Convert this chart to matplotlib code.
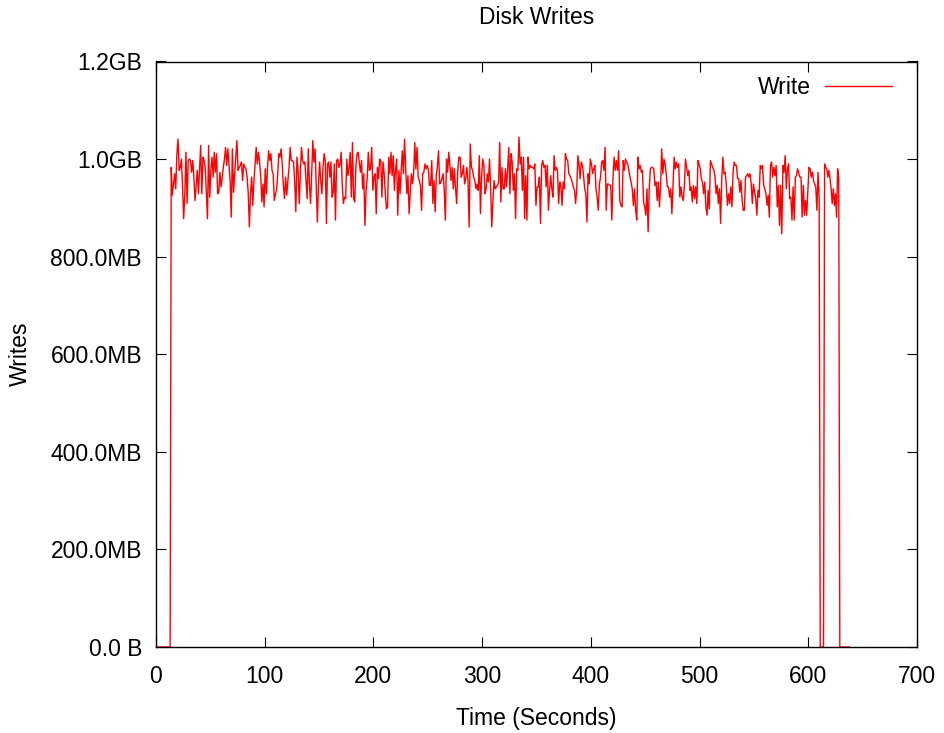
import matplotlib
matplotlib.use("Agg")
import matplotlib.pyplot as plt
import numpy as np
from matplotlib.ticker import FuncFormatter, MultipleLocator

plt.rcParams["font.family"] = ["Liberation Sans", "DejaVu Sans"]

# seconds (start, end) of each phase of the trace
IDLE_BEFORE = (0, 13)
RUN1_SPAN = (14, 610)
GAP_SPAN = (611, 614)
RUN2_SPAN = (615, 628)
IDLE_AFTER = (629, 638)

# write throughput, MB/s
RUN1_MB = [
    # ~14-110 s
    983, 926, 949, 970, 939, 1011, 1041, 977, 983, 1000, 943, 878, 929, 1014, 909, 997,
    1000, 997, 973, 997, 963, 915, 946, 977, 929, 977, 1028, 929, 1004, 997, 983, 929,
    878, 1028, 922, 977, 1004, 963, 1014, 973, 1011, 929, 932, 973, 943, 963, 983, 1000,
    1024, 987, 1021, 987, 956, 881, 1021, 932, 970, 1004, 1038, 977, 983, 987, 994, 956,
    990, 983, 980, 963, 929, 861, 929, 963, 905, 956, 987, 1024, 990, 1014, 994, 966,
    912, 949, 902, 980, 929, 983, 1017, 997, 1011, 977, 970, 915, 929, 936, 970, 1011,
    # ~115-224 s
    1004, 1021, 990, 946, 919, 963, 926, 956, 983, 1024, 997, 997, 994, 953, 892, 1004,
    977, 909, 970, 1024, 997, 990, 994, 956, 919, 1021, 949, 909, 970, 1038, 994, 1021,
    943, 871, 949, 994, 956, 929, 983, 1011, 997, 868, 990, 994, 963, 994, 922, 932,
    990, 875, 997, 1000, 983, 990, 1014, 946, 909, 922, 919, 1000, 966, 983, 1014, 922,
    1034, 919, 912, 983, 1011, 1014, 994, 973, 997, 939, 970, 864, 936, 960, 1014, 977,
    980, 1024, 936, 963, 970, 888, 983, 960, 1000, 997, 922, 994, 970, 929, 898, 902,
    1004, 970, 1014, 966,
    # ~225-334 s
    1007, 936, 977, 1000, 885, 977, 929, 977, 1017, 970, 1041, 980, 929, 966, 888, 932,
    970, 949, 970, 1034, 980, 1024, 963, 956, 946, 895, 970, 973, 990, 980, 987, 977,
    946, 946, 997, 909, 956, 892, 966, 987, 1017, 949, 953, 960, 970, 936, 875, 1000,
    973, 1014, 987, 956, 983, 939, 980, 939, 909, 980, 1004, 1004, 963, 970, 987, 949,
    960, 983, 956, 861, 1031, 983, 977, 963, 956, 939, 949, 936, 1007, 888, 963, 1000,
    987, 929, 939, 970, 953, 1000, 939, 861, 915, 956, 939, 943, 946, 953, 1034, 912,
    983, 939, 939, 980, 943, 980, 1024, 929, 1011, 994,
    # ~335-445 s
    936, 970, 878, 980, 977, 1045, 990, 1004, 936, 1004, 878, 966, 875, 1004, 980, 987,
    983, 983, 980, 990, 905, 943, 943, 963, 868, 987, 997, 983, 987, 943, 987, 895,
    936, 966, 939, 922, 1007, 977, 983, 977, 909, 953, 946, 905, 953, 939, 1011, 1000,
    997, 970, 966, 960, 953, 943, 936, 909, 939, 1007, 990, 960, 994, 987, 966, 939,
    929, 871, 970, 949, 1000, 990, 970, 980, 987, 939, 922, 895, 949, 963, 994, 997,
    977, 1024, 895, 949, 949, 946, 946, 875, 963, 1004, 977, 997, 977, 1017, 915, 905,
    902, 997, 977, 1000, 994, 990, 977, 963, 953, 939, 905, 939,
    # ~446-554 s
    895, 875, 1004, 980, 987, 973, 977, 912, 902, 885, 939, 851, 939, 980, 983, 983,
    980, 946, 953, 915, 953, 902, 943, 1021, 970, 1000, 990, 970, 943, 943, 922, 939,
    888, 946, 1004, 980, 994, 983, 990, 922, 943, 922, 915, 946, 1000, 983, 966, 977,
    936, 943, 912, 946, 919, 943, 909, 997, 990, 980, 960, 953, 929, 953, 902, 885,
    936, 898, 997, 990, 983, 977, 966, 929, 946, 909, 939, 868, 960, 1004, 970, 973,
    949, 905, 929, 909, 943, 902, 973, 994, 987, 987, 960, 960, 932, 956, 915, 895,
    895, 963, 966, 970, 963, 970, 949, 909, 949, 932, 919,
    # ~555-610 s
    885, 936, 922, 987, 980, 987, 946, 939, 929, 905, 926, 881, 987, 994, 963, 983,
    966, 987, 902, 946, 864, 946, 847, 987, 973, 1007, 939, 980, 990, 919, 922, 875,
    943, 875, 963, 966, 980, 970, 963, 963, 881, 946, 885, 915, 885, 936, 983, 980,
    963, 973, 956, 949, 943, 895, 973, 919,
]

RUN2_MB = [990, 983, 980, 963, 977, 960, 939, 909, 939, 905, 929, 881, 980, 960]


def fmt_bytes(v, _pos):
    if v == 0:
        return "0.0 B"
    if v >= 1000:
        return f"{v / 1000:.1f}GB"
    return f"{v:.1f}MB"


def main():
    t = np.concatenate([
        np.arange(IDLE_BEFORE[0], IDLE_BEFORE[1] + 1),
        np.linspace(RUN1_SPAN[0], RUN1_SPAN[1], len(RUN1_MB)),
        np.arange(GAP_SPAN[0], GAP_SPAN[1] + 1),
        np.linspace(RUN2_SPAN[0], RUN2_SPAN[1], len(RUN2_MB)),
        np.arange(IDLE_AFTER[0], IDLE_AFTER[1] + 1),
    ])
    y = np.concatenate([
        np.zeros(IDLE_BEFORE[1] - IDLE_BEFORE[0] + 1),
        RUN1_MB,
        np.zeros(GAP_SPAN[1] - GAP_SPAN[0] + 1),
        RUN2_MB,
        np.zeros(IDLE_AFTER[1] - IDLE_AFTER[0] + 1),
    ])

    W, H = 944, 733
    fig = plt.figure(figsize=(W / 100, H / 100), dpi=100)
    left, right, top, bottom = 156, 917, 61.5, 647
    ax = fig.add_axes([left / W, 1 - bottom / H, (right - left) / W, (bottom - top) / H])

    ax.plot(t, y, color="#ff0000", lw=1.0, label="Write")
    ax.set_xlim(0, 700)
    ax.set_ylim(0, 1200)
    ax.xaxis.set_major_locator(MultipleLocator(100))
    ax.yaxis.set_major_locator(MultipleLocator(200))
    ax.yaxis.set_major_formatter(FuncFormatter(fmt_bytes))

    fs = 16.5
    ax.tick_params(direction="in", length=7, width=0.8, top=True, right=True,
                   labelsize=fs, colors="black")
    ax.tick_params(axis="x", pad=13)
    ax.tick_params(axis="y", pad=10)
    for s in ax.spines.values():
        s.set_linewidth(1.0)

    ax.legend(loc="upper right", bbox_to_anchor=(0.967, 0.975), frameon=False,
              markerfirst=False, fontsize=fs, handlelength=2.9,
              handletextpad=0.65, borderpad=0, borderaxespad=0)

    cx = (left + right) / 2 / W
    fig.text(cx, 1 - 17 / H, "Disk Writes", ha="center", va="center", fontsize=fs)
    fig.text(cx, 1 - 718 / H, "Time (Seconds)", ha="center", va="center", fontsize=fs)
    fig.text(20 / W, 1 - 354 / H, "Writes", ha="center", va="center",
             rotation=90, fontsize=fs)

    fig.savefig("out.png", dpi=100)


if __name__ == "__main__":
    main()
